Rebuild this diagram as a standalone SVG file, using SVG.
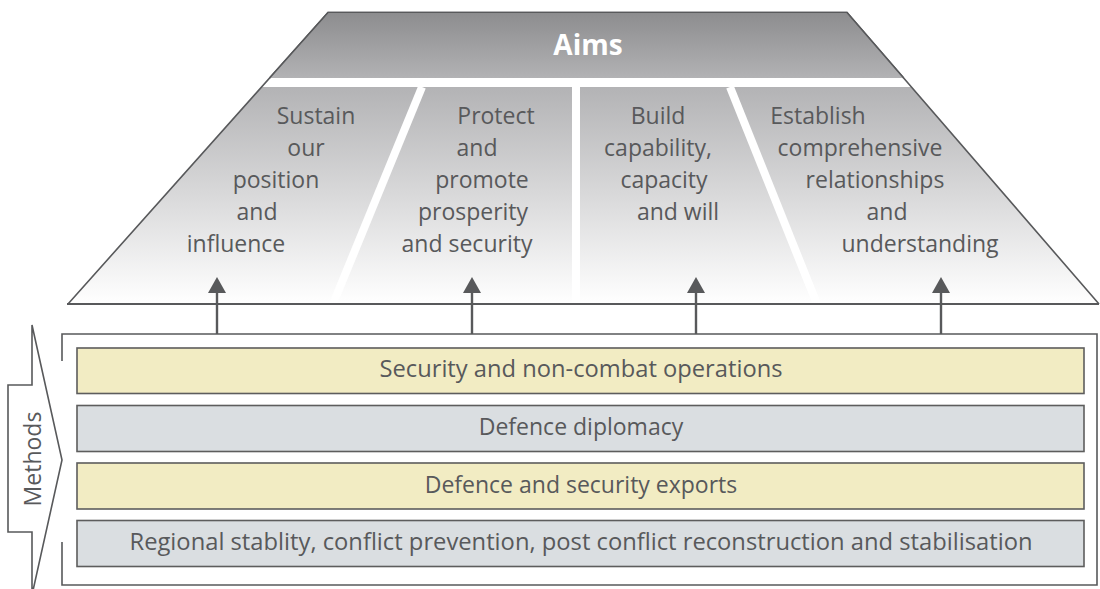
<svg xmlns="http://www.w3.org/2000/svg" width="1100" height="589" viewBox="0 0 1100 589">
<style>
.t{font-family:"Open Sans","Noto Sans","DejaVu Sans",sans-serif;font-size:23px;fill:#58595b;text-anchor:middle}
.h{font-family:"Open Sans","Noto Sans","DejaVu Sans",sans-serif;font-size:28px;font-weight:bold;fill:#ffffff;text-anchor:middle}
.ln{fill:none;stroke:#58595b;stroke-width:1.6}
.bar{stroke:#5d5d5d;stroke-width:1.6}
.y{fill:#f2ecc3}
.g{fill:#dadee1}
.div{stroke:#ffffff;stroke-width:8}
.con{stroke:#58595b;stroke-width:2.4;fill:none}
</style>
<defs>
<linearGradient id="gBand" x1="0" y1="0" x2="0" y2="1">
<stop offset="0" stop-color="#8d8d8f"/>
<stop offset="1" stop-color="#b2b2b4"/>
</linearGradient>
<linearGradient id="gSeg" x1="0" y1="87" x2="0" y2="304" gradientUnits="userSpaceOnUse">
<stop offset="0" stop-color="#b3b3b5"/>
<stop offset="1" stop-color="#ffffff"/>
</linearGradient>
<marker id="ah" viewBox="0 0 16 18" refX="8" refY="9" markerWidth="16" markerHeight="18" markerUnits="userSpaceOnUse" orient="auto">
<path d="M0,0 L16,9 L0,18 Z" fill="#58595b"/>
</marker>
</defs>

<g id="aims-frame">
<polygon points="261.5,87 911.4,87 1099,304 68,304" fill="url(#gSeg)"/>
<line class="div" x1="422" y1="87" x2="333" y2="304"/>
<line class="div" x1="576" y1="87" x2="576" y2="304"/>
<line class="div" x1="730" y1="87" x2="817" y2="304"/>
<path class="ln" d="M68,304 L328,12.5 L847,12.5 L1099,304"/>
<line x1="67" y1="304" x2="1099" y2="304" stroke="#58595b" stroke-width="2.2"/>
</g>

<g id="aims">
<polygon points="328,13.3 847,13.3 903.7,78 269.6,78" fill="url(#gBand)"/>
<path class="ln" d="M269.6,78 L328,12.5 L847,12.5 L903.7,78"/>
<text class="h" x="588" y="55">Aims</text>
</g>

<g id="aim-sustain">
<text class="t" x="316" y="124">Sustain</text>
<text class="t" x="306" y="156">our</text>
<text class="t" x="276" y="188">position</text>
<text class="t" x="257" y="220">and</text>
<text class="t" x="236" y="252">influence</text>
</g>

<g id="aim-protect">
<text class="t" x="496" y="124">Protect</text>
<text class="t" x="477" y="156">and</text>
<text class="t" x="482" y="188">promote</text>
<text class="t" x="473" y="220">prosperity</text>
<text class="t" x="467" y="252">and security</text>
</g>

<g id="aim-build">
<text class="t" x="658" y="124">Build</text>
<text class="t" x="658" y="156">capability,</text>
<text class="t" x="664" y="188">capacity</text>
<text class="t" x="678" y="220">and will</text>
</g>

<g id="aim-establish">
<text class="t" x="818" y="124">Establish</text>
<text class="t" x="860" y="156">comprehensive</text>
<text class="t" x="875" y="188">relationships</text>
<text class="t" x="887" y="220">and</text>
<text class="t" x="920" y="252">understanding</text>
</g>

<g id="methods-box">
<path class="ln" d="M62,361 L62,334 L1097,334 L1097,585 L62,585 L62,542"/>
</g>

<g id="methods-label">
<path d="M32,325 L32,385 L8,385 L8,532 L32,532 L32,595 L62,460 Z" fill="#ffffff" stroke="#58595b" stroke-width="1.6" stroke-linejoin="miter"/>
<text class="t" transform="translate(41,459) rotate(-90)" x="0" y="0">Methods</text>
</g>

<g id="method-security-ops">
<rect class="bar y" x="77" y="348" width="1007" height="45.5"/>
<text class="t" x="581" y="377" textLength="403" lengthAdjust="spacingAndGlyphs">Security and non-combat operations</text>
</g>

<g id="method-diplomacy">
<rect class="bar g" x="77" y="405.5" width="1007" height="46"/>
<text class="t" x="581" y="435">Defence diplomacy</text>
</g>

<g id="method-exports">
<rect class="bar y" x="77" y="463" width="1007" height="46"/>
<text class="t" x="581" y="493">Defence and security exports</text>
</g>

<g id="method-regional">
<rect class="bar g" x="77" y="520.5" width="1007" height="46"/>
<text class="t" x="581" y="550" textLength="903" lengthAdjust="spacingAndGlyphs">Regional stablity, conflict prevention, post conflict reconstruction and stabilisation</text>
</g>

<g id="connectors">
<line class="con" x1="217" y1="334" x2="217" y2="285" marker-end="url(#ah)"/>
<line class="con" x1="472" y1="334" x2="472" y2="285" marker-end="url(#ah)"/>
<line class="con" x1="696" y1="334" x2="696" y2="285" marker-end="url(#ah)"/>
<line class="con" x1="941" y1="334" x2="941" y2="285" marker-end="url(#ah)"/>
</g>
</svg>
